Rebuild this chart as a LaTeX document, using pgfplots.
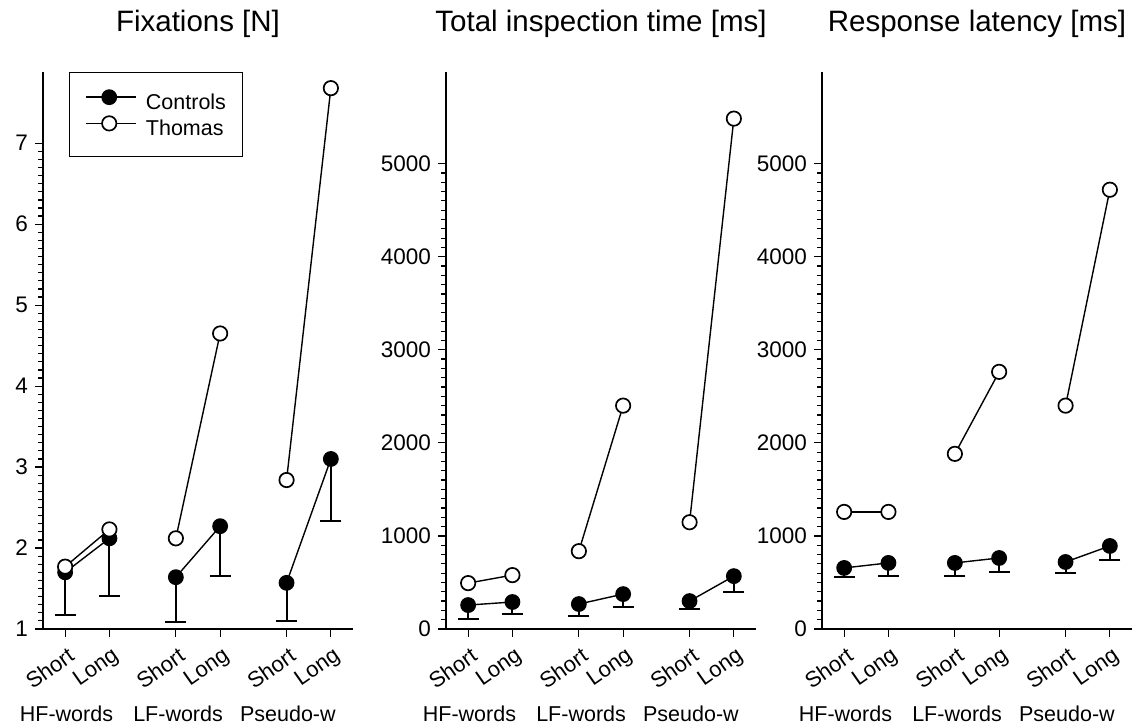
\documentclass[border=0pt]{standalone}
\usepackage{fontspec}
\setmainfont{Liberation Sans}
\usepackage{pgfplots}
\pgfplotsset{compat=1.18}
\tikzset{
  ttl/.style={anchor=base, font=\fontsize{14.75}{17}\selectfont},
  grp/.style={anchor=base, font=\fontsize{10.75}{12}\selectfont},
}
\begin{document}
\begin{tikzpicture}
\useasboundingbox (0,-48.5pt) rectangle (567pt,314.5pt);
\pgfplotsset{
  panel/.style={
    scale only axis, width=155pt, height=278.5pt,
    axis x line=bottom, axis y line=left,
    axis line style={line width=0.8pt, -},
    x axis line style={shorten <=-4pt},
    xmin=-0.5, xmax=6.5,
    xtick={0,1,2.5,3.5,5,6},
    xticklabels={Short,Long,Short,Long,Short,Long},
    xticklabel style={rotate=35, anchor=north east, font=\fontsize{11}{12}\selectfont, inner sep=1pt, xshift=-0.9pt, yshift=-3pt},
    tick align=outside,
    major tick length=4pt, minor tick length=2.5pt,
    tick style={black, line width=0.6pt},
    minor y tick num=9,
    yticklabel style={font=\fontsize{11.25}{13}\selectfont},
    /pgf/number format/assume math mode=true,
    /pgf/number format/1000 sep={},
    clip=false,
  },
  ctrl/.style={black, line width=0.7pt, mark=*, mark size=3.6pt, mark options={fill=black, solid},
    /pgfplots/error bars/y dir=minus, /pgfplots/error bars/y explicit,
    /pgfplots/error bars/error bar style={line width=1pt, black},
    /pgfplots/error bars/error mark options={rotate=90, line width=1pt, mark size=5.25pt, black}},
  thom/.style={black, line width=0.7pt, mark=*, mark size=3.6pt, mark options={fill=white, solid, line width=0.85pt}},
}
% Panel 1
\begin{axis}[panel, at={(21.5pt,0)}, anchor=south west,
  ymin=1, ymax=7.88, ytick={1,2,3,4,5,6,7},
  legend style={at={(0.084,1)}, anchor=north west, draw=black, line width=0.5pt,
    font=\fontsize{10.75}{12}\selectfont, inner xsep=8pt, inner ysep=8.75pt, row sep=1.5pt,
    nodes={inner sep=0pt, text height=8pt, text depth=2pt},
    /tikz/every odd column/.style={column sep=4.5pt}},
  legend image code/.code={\draw[mark repeat=2, mark phase=2, #1] plot coordinates {(0pt,3pt) (11.5pt,3pt) (25pt,3pt)};},
  legend cell align=left]
\addplot[ctrl] coordinates {(0,1.70) +- (0,0.53) (1,2.12) +- (0,0.71)};
\addlegendentry{Controls}
\addplot[thom] coordinates {(0,1.77) (1,2.23)};
\addlegendentry{Thomas}
\addplot[forget plot, ctrl] coordinates {(2.5,1.64) +- (0,0.55) (3.5,2.27) +- (0,0.62)};
\addplot[forget plot, ctrl] coordinates {(5,1.57) +- (0,0.47) (6,3.10) +- (0,0.77)};
\addplot[forget plot, thom] coordinates {(2.5,2.12) (3.5,4.65)};
\addplot[forget plot, thom] coordinates {(5,2.84) (6,7.68)};
\node[ttl] at ([yshift=20pt]rel axis cs:0.5,1) {Fixations [N]};
\node[grp] at ([yshift=-46.5pt]axis cs:0.03,1) {HF-words};
\node[grp] at ([yshift=-46.5pt]axis cs:2.55,1) {LF-words};
\node[grp] at ([yshift=-46.5pt]axis cs:5.03,1) {Pseudo-w};
\end{axis}
% Panel 2
\begin{axis}[panel, at={(223pt,0)}, anchor=south west,
  ymin=0, ymax=5985, ytick={0,1000,2000,3000,4000,5000}]
\addplot[ctrl] coordinates {(0,257) +- (0,150) (1,290) +- (0,130)};
\addplot[ctrl] coordinates {(2.5,268) +- (0,129) (3.5,375) +- (0,139)};
\addplot[ctrl] coordinates {(5,300) +- (0,86) (6,568) +- (0,171)};
\addplot[thom] coordinates {(0,493) (1,579)};
\addplot[thom] coordinates {(2.5,836) (3.5,2400)};
\addplot[thom] coordinates {(5,1147) (6,5484)};
\node[ttl] at ([yshift=20pt]rel axis cs:0.5,1) {Total inspection time [ms]};
\node[grp] at ([yshift=-46.5pt]axis cs:0.03,0) {HF-words};
\node[grp] at ([yshift=-46.5pt]axis cs:2.55,0) {LF-words};
\node[grp] at ([yshift=-46.5pt]axis cs:5.03,0) {Pseudo-w};
\end{axis}
% Panel 3
\begin{axis}[panel, at={(411pt,0)}, anchor=south west,
  ymin=0, ymax=5985, ytick={0,1000,2000,3000,4000,5000}]
\addplot[ctrl] coordinates {(0,656) +- (0,97) (1,710) +- (0,140)};
\addplot[ctrl] coordinates {(2.5,710) +- (0,140) (3.5,763) +- (0,150)};
\addplot[ctrl] coordinates {(5,720) +- (0,118) (6,892) +- (0,150)};
\addplot[thom] coordinates {(0,1258) (1,1258)};
\addplot[thom] coordinates {(2.5,1882) (3.5,2763)};
\addplot[thom] coordinates {(5,2400) (6,4720)};
\node[ttl] at ([yshift=20pt]rel axis cs:0.5,1) {Response latency [ms]};
\node[grp] at ([yshift=-46.5pt]axis cs:0.03,0) {HF-words};
\node[grp] at ([yshift=-46.5pt]axis cs:2.55,0) {LF-words};
\node[grp] at ([yshift=-46.5pt]axis cs:5.03,0) {Pseudo-w};
\end{axis}
\end{tikzpicture}
\end{document}
